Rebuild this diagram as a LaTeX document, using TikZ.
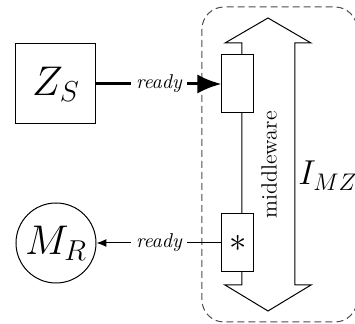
\documentclass[tikz,border=0pt]{standalone}
\usepackage{amsmath, amssymb}
\usepackage{tikz}
\usetikzlibrary{arrows.meta, positioning, calc}

\begin{document}
\begin{tikzpicture}[
	x=0.5pt, y=-0.5pt,
	source/.style={rectangle, draw=black, line width=0.5pt, minimum size=40pt, inner sep=0pt, font=\huge},
	sink/.style={circle, draw=black, line width=0.5pt, minimum size=40pt, inner sep=0pt, font=\huge},
	port/.style={rectangle, draw=black, fill=white, line width=0.5pt, minimum width=16pt, minimum height=29pt, inner sep=0pt},
	lbl/.style={fill=white, font=\itshape, inner sep=2.5pt},
	fat/.style={line width=1.5pt, -{Latex[length=12pt, width=9.5pt]}},
	slim/.style={line width=0.5pt, -{Latex[length=5pt, width=4pt]}},
	frame/.style={draw=black!70, line width=0.5pt, dash pattern=on 3.5pt off 2pt, rounded corners=11pt},
	hollow/.style={draw=black, line width=0.5pt}
]
\useasboundingbox (0,0) rectangle (355,324);

% Middleware frame
\draw[frame] (202,7) rectangle (357,322);

% Double arrow
\draw[hollow] (268,18) -- (311,43) -- (295,43) -- (295,285) -- (311,285)
	-- (268,311) -- (225,285) -- (242,285) -- (242,43) -- (225,43) -- cycle;
\node[rotate=90, font=\fontsize{11}{13}\selectfont] (mw) at (269,165) {middleware};
\node[anchor=base west, inner sep=0pt, font=\fontsize{18}{22}\selectfont] (imz) at (298,185) {$I_{MZ}$};

% Ports
\node[port] (in) at (238,84) {};
\node[port, font=\LARGE] (out) at (238,243) {$\ast$};

% Components
\node[source] (zs) at (56,84) {$Z_S$};
\node[sink] (mr) at (56,243) {$M_R$};

% Ready signals
\draw[fat] (zs) -- node[lbl] {ready} (in);
\draw[slim] (out) -- node[lbl] {ready} (mr);

\end{tikzpicture}
\end{document}
